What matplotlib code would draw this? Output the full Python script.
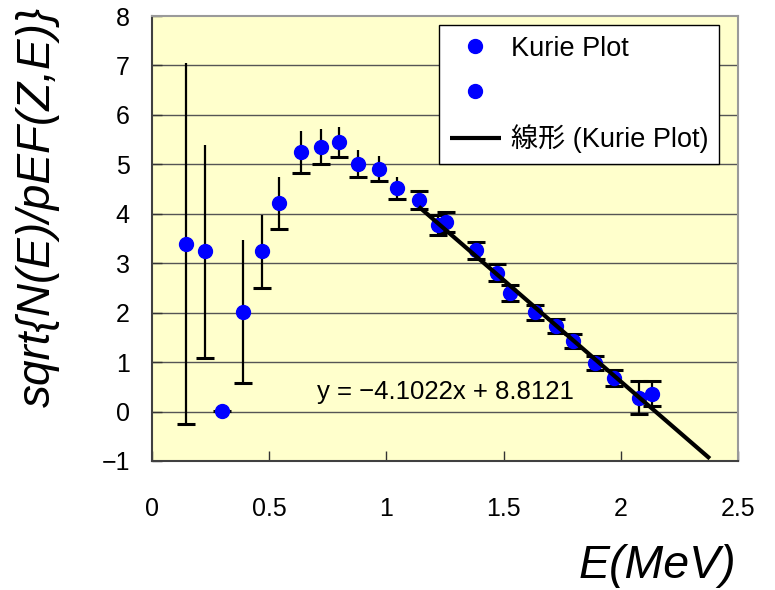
import matplotlib
matplotlib.use("Agg")
import matplotlib.pyplot as plt
import numpy as np

# エネルギー (MeV) と Kurie プロットの値
e_low = [0.145, 0.228, 0.298, 0.390, 0.471, 0.543, 0.634, 0.722, 0.796, 0.877, 0.967, 1.047]
k_low = [3.39, 3.24, 0.01, 2.02, 3.24, 4.22, 5.25, 5.36, 5.45, 5.01, 4.91, 4.52]
err_low = [3.65, 2.16, 0.0, 1.45, 0.74, 0.52, 0.42, 0.35, 0.30, 0.27, 0.25, 0.23]

e_fit = [1.138, 1.219, 1.256, 1.383, 1.471, 1.526, 1.634, 1.725, 1.798, 1.889, 1.969, 2.078, 2.135]
k_fit = [4.28, 3.77, 3.84, 3.26, 2.81, 2.40, 2.01, 1.73, 1.42, 0.99, 0.68, 0.28, 0.36]
err_fit = [0.19, 0.20, 0.20, 0.17, 0.17, 0.16, 0.15, 0.14, 0.14, 0.14, 0.17, 0.33, 0.25]

# 線形近似
slope = -4.1022
intercept = 8.8121
trend_end = 2.38

x_ticks = [0, 0.5, 1, 1.5, 2, 2.5]
x_tick_labels = ["0", "0.5", "1", "1.5", "2", "2.5"]
y_ticks = [-1, 0, 1, 2, 3, 4, 5, 6, 7, 8]
y_tick_labels = ["\u22121", "0", "1", "2", "3", "4", "5", "6", "7", "8"]

fig = plt.figure(figsize=(7.75, 5.9), dpi=100)
ax = fig.add_axes([152 / 775, 1 - 461 / 590, 586 / 775, 445 / 590])
ax.set_facecolor("#FFFFCC")

ax.set_xlim(0, 2.5)
ax.set_ylim(-1, 8)

for y in y_ticks[1:-1]:
    ax.axhline(y, color="#555555", linewidth=1.0, zorder=1)

# 誤差棒（左側は下側のキャップのみ）
ax.errorbar(e_low, k_low, yerr=err_low, fmt="none", ecolor="black",
            elinewidth=1.6, capsize=0, zorder=2)
ax.plot(e_low, np.array(k_low) - np.array(err_low), linestyle="none",
        marker="_", markersize=13, markeredgewidth=2.2, color="black", zorder=2)
ax.errorbar(e_fit, k_fit, yerr=err_fit, fmt="none", ecolor="black",
            elinewidth=1.6, capsize=6.5, capthick=2.2, zorder=2)

p_fit, = ax.plot(e_fit, k_fit, linestyle="none", marker="o", markersize=10,
                 color="#0000FF", zorder=3)
p_low, = ax.plot(e_low, k_low, linestyle="none", marker="o", markersize=10,
                 color="#0000FF", zorder=3)

trend_x = np.array([e_fit[0], trend_end])
trend, = ax.plot(trend_x, slope * trend_x + intercept, color="black",
                 linewidth=3, solid_capstyle="butt", zorder=4)

ax.text(1.252, 0.40, "y = \u22124.1022x + 8.8121", ha="center", va="center",
        fontsize=18.5, family=["Liberation Sans", "DejaVu Sans"], zorder=5)

ax.set_xticks(x_ticks)
ax.set_xticklabels(x_tick_labels)
ax.set_yticks(y_ticks)
ax.set_yticklabels(y_tick_labels)
ax.tick_params(axis="x", direction="in", length=7, width=1, pad=26,
               labelsize=18, color="#333333")
ax.tick_params(axis="y", direction="in", length=7, width=1, pad=16,
               labelsize=18, color="#333333")
for lab in ax.get_xticklabels() + ax.get_yticklabels():
    lab.set_family(["Liberation Sans", "DejaVu Sans"])

ax.spines["left"].set_color("#404040")
ax.spines["bottom"].set_color("#404040")
ax.spines["top"].set_color("#9A9A9A")
ax.spines["right"].set_color("#9A9A9A")
for s in ax.spines.values():
    s.set_linewidth(1.5)

ax.set_ylabel("sqrt{N(E)/pEF(Z,E)}", fontsize=33, style="italic",
              family=["Liberation Sans", "DejaVu Sans"], va="center")
ax.yaxis.set_label_coords(-0.195, 0.571)
fig.text(736 / 775, 1 - 566 / 590, "E(MeV)", ha="right", va="center",
         fontsize=33.5, style="italic", family=["Liberation Sans", "DejaVu Sans"])

leg = ax.legend([p_fit, p_low, trend], ["Kurie Plot", " ", "線形 (Kurie Plot)"],
                loc="upper right", bbox_to_anchor=(567 / 586, 436 / 445),
                borderaxespad=0, fancybox=False, framealpha=1, edgecolor="black",
                prop={"family": ["Liberation Sans", "Noto Sans CJK JP"], "size": 19.5},
                handlelength=1.9, handletextpad=0.35, labelspacing=0.68,
                borderpad=0.4)
leg.get_frame().set_linewidth(1.0)
leg.set_zorder(6)

fig.savefig("out.png", dpi=100)
